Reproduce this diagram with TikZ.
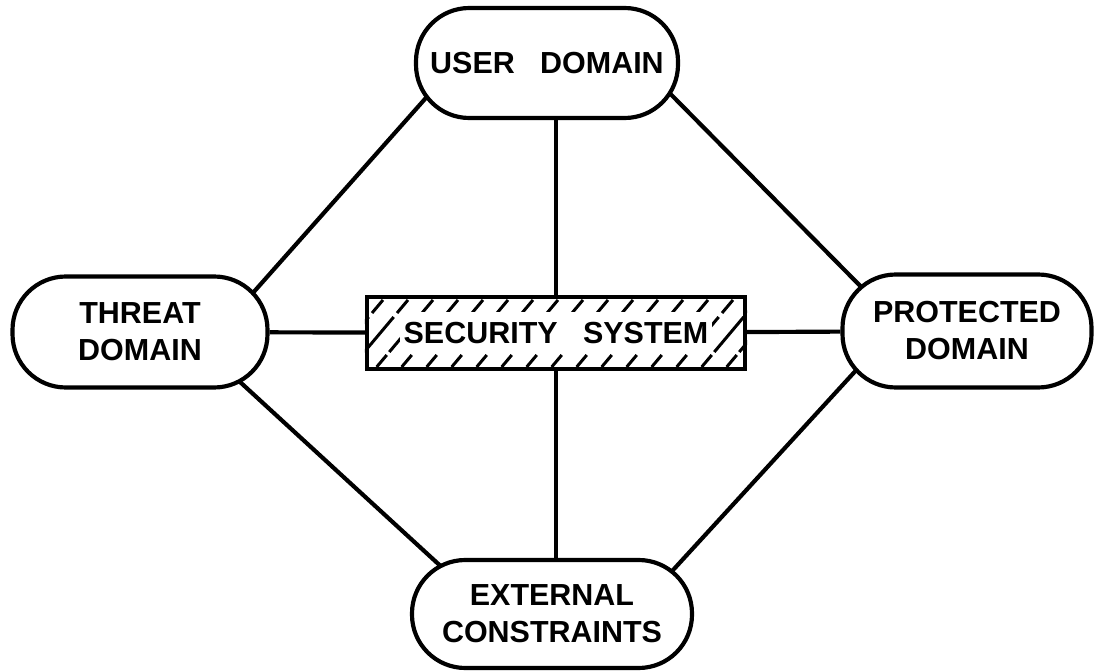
\documentclass[tikz,border=0pt]{standalone}
\usepackage{fontspec}
\setmainfont{Liberation Sans}[WordSpace=3.0]
\usetikzlibrary{backgrounds}
\tikzset{
  sdnode/.style={draw, fill=white, line width=1.25mm, rounded corners=16mm,
                 align=center, inner sep=0pt,
                 font=\fontsize{26}{31.6}\selectfont\bfseries},
  sdcore/.style={draw, fill=white, line width=1.25mm,
                 minimum width=113.4mm, minimum height=21.6mm},
  sdlabel/.style={fill=white, inner xsep=1.2mm, inner ysep=0pt,
                  minimum height=12.6mm,
                  font=\fontsize{26}{31.6}\selectfont\bfseries},
  sdedge/.style={line width=1.25mm},
  sdlong/.style={sdedge, shorten <=-8mm, shorten >=-8mm},
  sdhatch/.style={line width=0.9mm},
}

\begin{document}
\begin{tikzpicture}[x=1mm,y=1mm]
  \useasboundingbox (0,0) rectangle (328.5,-201.3);

  \node[sdnode, minimum width=78.6mm, minimum height=33mm]   (user)   at (164.1,-18.9)  {USER DOMAIN};
  \node[sdnode, minimum width=76.5mm, minimum height=33.3mm] (threat) at (42.0,-99.6)   {THREAT\\DOMAIN};
  \node[sdnode, minimum width=74.7mm, minimum height=33.9mm] (prot)   at (290.1,-99.3)  {PROTECTED\\DOMAIN};
  \node[sdnode, minimum width=84mm,   minimum height=32.4mm] (ext)    at (165.6,-184.2) {EXTERNAL\\CONSTRAINTS};
  \node[sdcore] (ss) at (166.8,-99.9) {};

  % hatching of the security system box
  \begin{scope}
    \clip (ss.south west) rectangle (ss.north east);
    \foreach \x in {90,97.5,...,225}
      \foreach \a/\b in {0.6/4.2,5.1/15.6,16.8/20.7}
        \draw[sdhatch] (\x+0.84*\a,-110.7+\a) -- (\x+0.84*\b,-110.7+\b);
  \end{scope}
  \node[sdlabel] (sslabel) at (ss) {SECURITY SYSTEM};

  \begin{scope}[on background layer]
    \draw[sdedge] (threat) -- (ss);
    \draw[sdedge] (ss) -- (prot);
    \draw[sdedge] (ss.north) -- (ss.north |- user.south);
    \draw[sdedge] (ss.south) -- (ss.south |- ext.north);
    \draw[sdlong] (user.200) -- (threat.24);
    \draw[sdlong] (user.-17) -- (prot.154);
    \draw[sdlong] (threat.-28) -- (ext.155);
    \draw[sdlong] (prot.204) -- (ext.23);
  \end{scope}
\end{tikzpicture}
\end{document}
